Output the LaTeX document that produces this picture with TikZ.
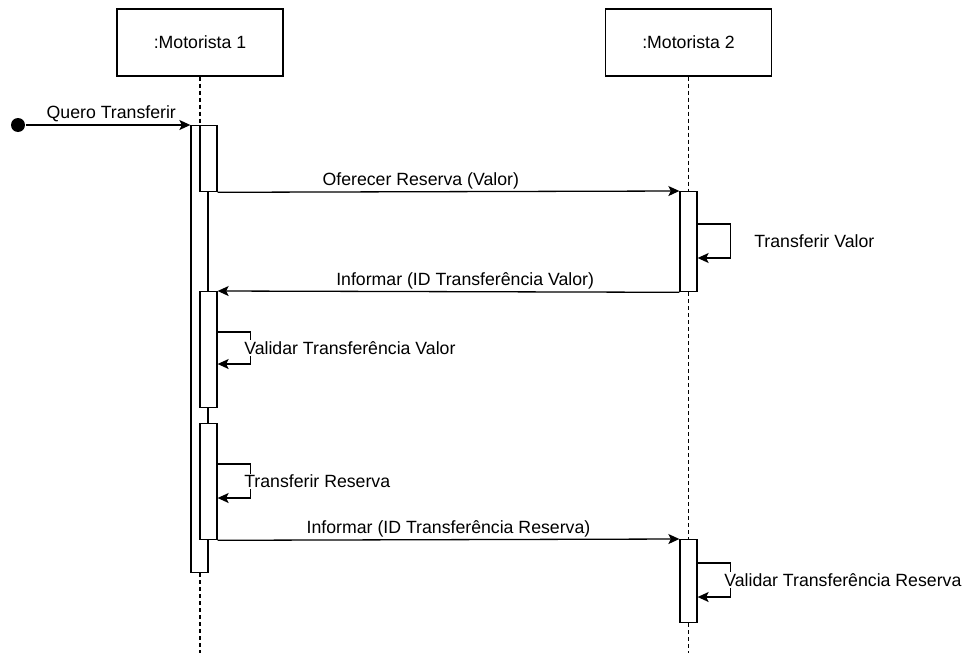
\documentclass[tikz,border=0pt]{standalone}
\usepackage{fontspec}
\setmainfont{Liberation Sans}
\usetikzlibrary{arrows.meta}

\begin{document}
\begin{tikzpicture}[x=1pt, y=-1pt, >={Stealth[length=11pt,width=10pt,inset=2.5pt]},
	font=\fontsize{17.7}{21}\selectfont, line width=1.3pt,
	actor/.style={draw, fill=white, minimum width=166pt, minimum height=67pt, inner sep=0pt},
	bar/.style={draw, fill=white, minimum width=17pt, anchor=north, inner sep=0pt},
	life/.style={line width=1.1pt, dash pattern=on 4pt off 3pt},
	msg/.style={->},
	lbl/.style={above, inner sep=2pt, text depth=4pt},
	self/.style={right, xshift=-8pt, fill=white, inner sep=1pt}]
	\useasboundingbox (0,0) rectangle (971,653);
	\node[actor] (m1) at (200,42.5) {:Motorista 1};
	\node[actor] (m2) at (688.5,42.5) {:Motorista 2};
	\coordinate (e1) at (200,653);
	\coordinate (e2) at (688.5,653);
	\node[bar, minimum height=447pt] (a1) at (199.5,125) {};
	\node[bar, minimum height=66pt] (a2) at (208.5,125) {};
	\node[bar, minimum height=100pt] (b1) at (688.5,191) {};
	\node[bar, minimum height=116pt] (a3) at (208.5,291) {};
	\node[bar, minimum height=116pt] (a4) at (208.5,423) {};
	\node[bar, minimum height=83pt] (b2) at (688.5,539) {};
	\draw[life] (m1) -- (m1 |- a1.north) (a1.south -| e1) -- (e1);
	\draw[life] (m2) -- (b1) (b1) -- (b2) (b2) -- (e2);
	\node[circle, fill, inner sep=0pt, minimum size=14pt] (start) at (18,125) {};
	\draw[msg] (start) -- (a1.north west) node[lbl, pos=0.52] {Quero Transferir};
	\draw[msg] (a2.south east) -- (b1.north west) node[lbl, pos=0.44] {Oferecer Reserva (Valor)};
	\draw[msg] ([yshift=-33pt]b1.north east) -- ++(33,0) -- ++(0,34) node[midway, right, xshift=22pt, inner sep=1pt] {Transferir Valor} -- ++(-33,0);
	\draw[msg] (b1.south west) -- (a3.north east) node[lbl, pos=0.464] {Informar (ID Transferência Valor)};
	\draw[msg] ([yshift=-41pt]a3.north east) -- ++(33,0) -- ++(0,32) node[midway, self] {Validar Transferência Valor} -- ++(-33,0);
	\draw[msg] ([yshift=-41pt]a4.north east) -- ++(33,0) -- ++(0,34) node[midway, self] {Transferir Reserva} -- ++(-33,0);
	\draw[msg] (a4.south east) -- (b2.north west) node[lbl, pos=0.5] {Informar (ID Transferência Reserva)};
	\draw[msg] ([yshift=-24pt]b2.north east) -- ++(33,0) -- ++(0,34) node[midway, self] {Validar Transferência Reserva} -- ++(-33,0);
\end{tikzpicture}
\end{document}
